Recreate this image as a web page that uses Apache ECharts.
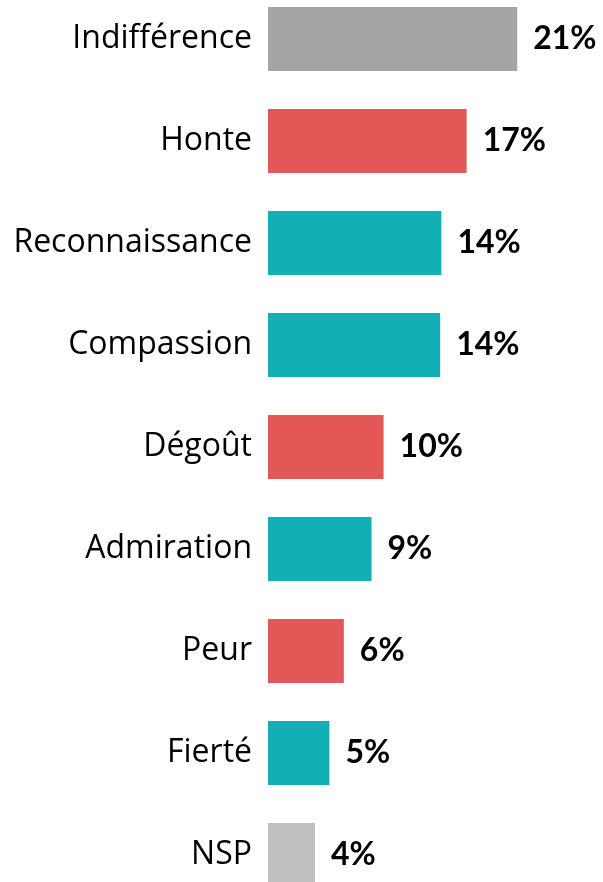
<!DOCTYPE html>
<html>
<head>
<meta charset="utf-8">
<script src="https://cdn.jsdelivr.net/npm/echarts@6/dist/echarts.min.js"></script>
<style>
	html, body { margin: 0; padding: 0; background: #fff; }
	#chart { width: 603px; height: 882px; }
</style>
</head>
<body>
<div id="chart"></div>
<script>
var categories = ['Indifférence', 'Honte', 'Reconnaissance', 'Compassion', 'Dégoût', 'Admiration', 'Peur', 'Fierté', 'NSP'];
var values = [20.7, 16.5, 14.4, 14.3, 9.6, 8.6, 6.3, 5.1, 3.9];
var groups = ['neutre', 'negatif', 'positif', 'positif', 'negatif', 'positif', 'negatif', 'positif', 'nsp'];

var groupColors = {
	neutre: '#A5A5A5',
	negatif: '#E35757',
	positif: '#13AFB7',
	nsp: '#BFBFBF'
};

var option = {
	animation: false,
	grid: {
		left: 268,
		right: 34,
		top: -12,
		bottom: -24,
		outerBoundsMode: 'none'
	},
	xAxis: {
		type: 'value',
		min: 0,
		max: 25,
		show: false
	},
	yAxis: {
		type: 'category',
		inverse: true,
		data: categories,
		axisLine: { show: false },
		axisTick: { show: false },
		axisLabel: {
			margin: 16,
			color: '#000',
			fontFamily: '"Open Sans", sans-serif',
			fontSize: 32
		}
	},
	series: [{
		type: 'bar',
		barWidth: 64,
		data: values.map(function (v, i) {
			return { value: v, itemStyle: { color: groupColors[groups[i]] } };
		}),
		label: {
			show: true,
			position: 'right',
			distance: 16,
			color: '#000',
			fontFamily: 'Lato, sans-serif',
			fontWeight: 'bold',
			fontSize: 32,
			formatter: function (p) { return Math.round(p.value) + '%'; }
		}
	}]
};

var myChart = echarts.init(document.getElementById('chart'));
myChart.setOption(option);
</script>
</body>
</html>
